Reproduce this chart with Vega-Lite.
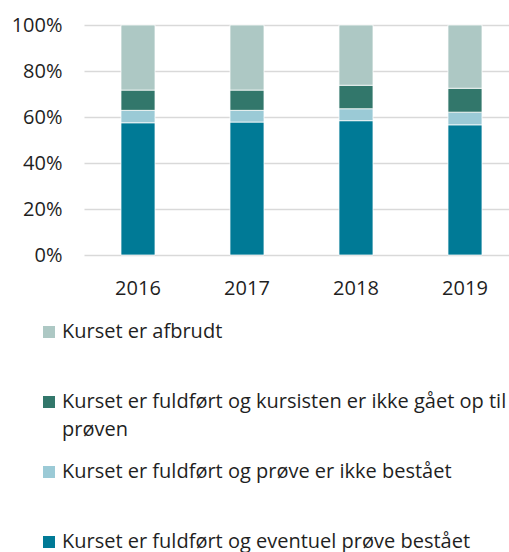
{
  "$schema": "https://vega.github.io/schema/vega-lite/v6.json",
  "autosize": {"type": "none"},
  "padding": {"left": 84, "top": 25, "right": 0, "bottom": 297},
  "width": 425,
  "height": 230,
  "config": {
    "view": {"stroke": null},
    "font": "Open Sans",
    "axis": {"labelFont": "Open Sans", "labelFontSize": 20, "labelColor": "#1f1f1f", "domain": false, "ticks": false, "tickSize": 0, "title": null},
    "legend": {"labelFont": "Open Sans", "labelFontSize": 20, "labelColor": "#1f1f1f"}
  },
  "data": {
    "values": [
      {"year": "2016", "status": "Kurset er fuldført og eventuel prøve bestået", "pct": 57.5},
      {"year": "2016", "status": "Kurset er fuldført og prøve er ikke bestået", "pct": 5.4},
      {"year": "2016", "status": "Kurset er fuldført og kursisten er ikke gået op til prøven", "pct": 8.8},
      {"year": "2016", "status": "Kurset er afbrudt", "pct": 28.3},
      {"year": "2017", "status": "Kurset er fuldført og eventuel prøve bestået", "pct": 57.8},
      {"year": "2017", "status": "Kurset er fuldført og prøve er ikke bestået", "pct": 5.1},
      {"year": "2017", "status": "Kurset er fuldført og kursisten er ikke gået op til prøven", "pct": 8.8},
      {"year": "2017", "status": "Kurset er afbrudt", "pct": 28.3},
      {"year": "2018", "status": "Kurset er fuldført og eventuel prøve bestået", "pct": 58.4},
      {"year": "2018", "status": "Kurset er fuldført og prøve er ikke bestået", "pct": 5.2},
      {"year": "2018", "status": "Kurset er fuldført og kursisten er ikke gået op til prøven", "pct": 10.2},
      {"year": "2018", "status": "Kurset er afbrudt", "pct": 26.2},
      {"year": "2019", "status": "Kurset er fuldført og eventuel prøve bestået", "pct": 56.6},
      {"year": "2019", "status": "Kurset er fuldført og prøve er ikke bestået", "pct": 5.5},
      {"year": "2019", "status": "Kurset er fuldført og kursisten er ikke gået op til prøven", "pct": 10.4},
      {"year": "2019", "status": "Kurset er afbrudt", "pct": 27.5}
    ]
  },
  "transform": [
    {"calculate": "indexof(['Kurset er fuldført og eventuel prøve bestået', 'Kurset er fuldført og prøve er ikke bestået', 'Kurset er fuldført og kursisten er ikke gået op til prøven', 'Kurset er afbrudt'], datum.status)", "as": "stackOrder"}
  ],
  "mark": {"type": "bar", "stroke": "white", "strokeWidth": 0.75},
  "encoding": {
    "x": {
      "field": "year", "type": "nominal",
      "scale": {"paddingInner": 0.688, "paddingOuter": 0.2936, "align": 0.578},
      "axis": {"labelAngle": 0, "labelPadding": 23, "grid": false}
    },
    "y": {
      "field": "pct", "type": "quantitative", "stack": "normalize",
      "scale": {"domain": [0, 1]},
      "axis": {"format": ".0%", "values": [0, 0.2, 0.4, 0.6, 0.8, 1], "labelPadding": 22, "grid": true, "gridColor": "#d9d9d9", "gridWidth": 1.5}
    },
    "order": {"field": "stackOrder", "type": "quantitative", "sort": "ascending"},
    "color": {
      "field": "status", "type": "nominal",
      "scale": {
        "domain": ["Kurset er afbrudt", "Kurset er fuldført og kursisten er ikke gået op til prøven", "Kurset er fuldført og prøve er ikke bestået", "Kurset er fuldført og eventuel prøve bestået"],
        "range": ["#adc8c4", "#32776b", "#9bcad6", "#007a96"]
      },
      "legend": {
        "title": null,
        "orient": "none",
        "legendX": -45,
        "legendY": 297,
        "direction": "vertical",
        "symbolType": "square",
        "symbolSize": 144,
        "symbolStrokeWidth": 0,
        "labelOffset": 3,
        "labelLimit": 0,
        "labelBaseline": "top",
        "rowPadding": 22,
        "labelExpr": "datum.label == 'Kurset er fuldført og kursisten er ikke gået op til prøven' ? ['Kurset er fuldført og kursisten er ikke gået op til', 'prøven'] : [datum.label, ' ']",
        "encoding": {"labels": {"dy": {"value": -10}, "lineHeight": {"value": 28}}}
      }
    }
  }
}
